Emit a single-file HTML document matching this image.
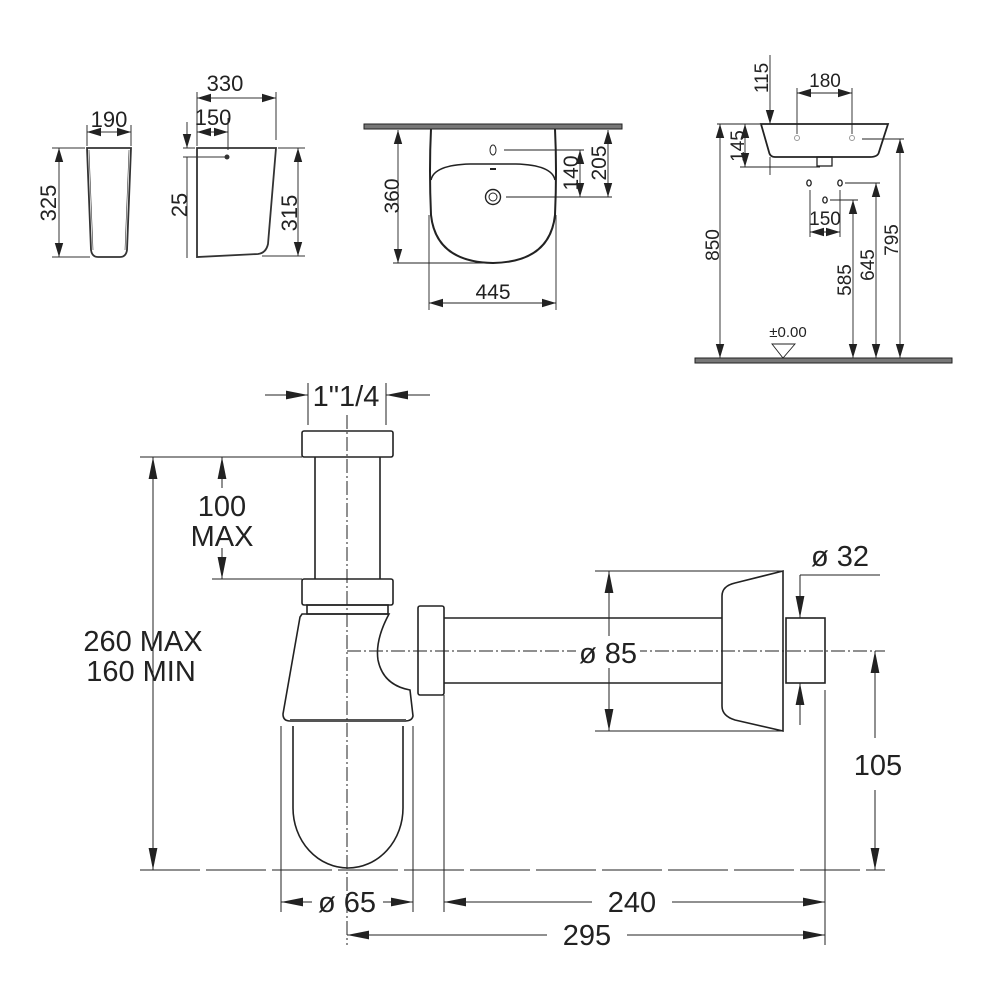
<!DOCTYPE html>
<html><head><meta charset="utf-8"><style>
html,body{margin:0;padding:0;background:#fff;width:1000px;height:1000px;overflow:hidden}
svg{display:block}
text{font-family:"Liberation Sans",sans-serif;fill:#222}
</style></head><body>
<svg width="1000" height="1000" viewBox="0 0 1000 1000" xmlns="http://www.w3.org/2000/svg">
<defs>
<marker id="b" viewBox="0 0 10 10" refX="10" refY="5" markerWidth="14" markerHeight="14" markerUnits="userSpaceOnUse" orient="auto-start-reverse"><path d="M0,2L10,5L0,8z" fill="#222"/></marker>
<marker id="B" viewBox="0 0 10 10" refX="10" refY="5" markerWidth="22" markerHeight="22" markerUnits="userSpaceOnUse" orient="auto-start-reverse"><path d="M0,3L10,5L0,7z" fill="#222"/></marker>
</defs>

<!-- TOP LEFT -->
<g stroke="#333" fill="none" stroke-width="1">
<path d="M87,148 L131,148 L127,250 Q126,257 120,257 L98,257 Q92,257 91,250 Z" stroke-width="1.8"/>
<path d="M89,150 L93,250 M129,150 L125,250" stroke-width="0.6"/>
<line x1="87" y1="132" x2="131" y2="132" marker-start="url(#b)" marker-end="url(#b)"/>
<line x1="87" y1="125" x2="87" y2="146"/><line x1="131" y1="125" x2="131" y2="146"/>
<line x1="59" y1="148" x2="59" y2="257" marker-start="url(#b)" marker-end="url(#b)"/>
<line x1="52" y1="148" x2="85" y2="148"/><line x1="52" y1="257" x2="90" y2="257"/>
<path d="M197,148 L276,148 L268,244 Q266,253 258,254 L197,257 Z" stroke-width="1.8"/>
<circle cx="227" cy="157" r="2" fill="#333"/>
<line x1="197" y1="98" x2="276" y2="98" marker-start="url(#b)" marker-end="url(#b)"/>
<line x1="197" y1="92" x2="197" y2="146"/><line x1="276" y1="92" x2="276" y2="140"/>
<line x1="197" y1="132" x2="228" y2="132" marker-start="url(#b)" marker-end="url(#b)"/>
<line x1="228" y1="118" x2="228" y2="150"/>
<line x1="187" y1="122" x2="187" y2="148" marker-end="url(#b)"/>
<line x1="187" y1="157" x2="187" y2="258"/>
<line x1="183" y1="148" x2="195" y2="148"/><line x1="183" y1="157" x2="225" y2="157"/>
<line x1="298" y1="148" x2="298" y2="256" marker-start="url(#b)" marker-end="url(#b)"/>
<line x1="278" y1="148" x2="305" y2="148"/><line x1="262" y1="256" x2="305" y2="256"/>
</g>
<g font-size="22">
<text x="109" y="127" text-anchor="middle">190</text>
<text x="225" y="91" text-anchor="middle">330</text>
<text x="213" y="125" text-anchor="middle">150</text>
<text transform="translate(56,203) rotate(-90)" text-anchor="middle">325</text>
<text transform="translate(187,205) rotate(-90)" text-anchor="middle">25</text>
<text transform="translate(297,213) rotate(-90)" text-anchor="middle">315</text>
</g>

<!-- TOP MIDDLE -->
<rect x="364" y="124" width="258" height="5" fill="#777" stroke="#222" stroke-width="1"/>
<g stroke="#222" fill="none">
<path d="M431,129 Q429,170 431,215 Q436,262 493,263 Q550,262 555,215 Q557,170 555,129" stroke-width="2"/>
<path d="M431,180 Q434,165 470,164 L516,164 Q552,165 555,180" stroke-width="1.6"/>
<ellipse cx="493" cy="150" rx="3" ry="5" stroke-width="1"/>
<line x1="490" y1="169" x2="496" y2="169" stroke-width="2"/>
<circle cx="493" cy="197" r="7.5" stroke-width="1.4"/><circle cx="493" cy="197" r="4" stroke-width="1"/>
<g stroke-width="0.9">
<line x1="398" y1="130" x2="398" y2="263" marker-start="url(#b)" marker-end="url(#b)"/>
<line x1="393" y1="263" x2="490" y2="263"/>
<line x1="580" y1="150" x2="580" y2="197" marker-start="url(#b)" marker-end="url(#b)"/>
<line x1="608" y1="130" x2="608" y2="197" marker-start="url(#b)" marker-end="url(#b)"/>
<line x1="504" y1="150" x2="584" y2="150"/><line x1="506" y1="197" x2="612" y2="197"/>
<line x1="429" y1="303" x2="556" y2="303" marker-start="url(#b)" marker-end="url(#b)"/>
<line x1="429" y1="215" x2="429" y2="310"/><line x1="556" y1="215" x2="556" y2="310"/>
</g></g>
<g font-size="21">
<text transform="translate(399,196) rotate(-90)" text-anchor="middle">360</text>
<text transform="translate(578,173) rotate(-90)" text-anchor="middle">140</text>
<text transform="translate(606,163) rotate(-90)" text-anchor="middle">205</text>
<text x="493" y="299" text-anchor="middle">445</text>
</g>

<!-- TOP RIGHT -->
<rect x="695" y="358" width="257" height="5" fill="#777" stroke="#222" stroke-width="1"/>
<g stroke="#222" fill="none">
<path d="M761,124 L888,124 L879,152 Q878,157 870,157 L775,157 Q770,157 769,152 Z" stroke-width="1.8"/>
<rect x="817" y="157" width="15" height="9" stroke-width="1.3"/>
<circle cx="797" cy="138" r="2.5" stroke="#999"/><circle cx="852" cy="138" r="2.5" stroke="#999"/>
<ellipse cx="809" cy="183" rx="2.2" ry="3" stroke-width="1.3"/><ellipse cx="840" cy="183" rx="2.2" ry="3" stroke-width="1.3"/><ellipse cx="825" cy="200" rx="2.2" ry="3" stroke-width="1.3"/>
<g stroke-width="0.9">
<line x1="797" y1="93" x2="852" y2="93" marker-start="url(#b)" marker-end="url(#b)"/>
<line x1="797" y1="88" x2="797" y2="134"/><line x1="852" y1="88" x2="852" y2="134"/>
<line x1="770" y1="55" x2="770" y2="124" marker-end="url(#b)"/>
<line x1="745" y1="124" x2="745" y2="167" marker-start="url(#b)" marker-end="url(#b)"/>
<line x1="740" y1="167" x2="820" y2="167"/>
<line x1="770" y1="157" x2="770" y2="175"/>
<line x1="720" y1="124" x2="720" y2="358" marker-start="url(#b)" marker-end="url(#b)"/>
<line x1="717" y1="124" x2="760" y2="124"/>
<line x1="810" y1="190" x2="810" y2="237"/><line x1="840" y1="190" x2="840" y2="237"/>
<line x1="810" y1="232" x2="840" y2="232" marker-start="url(#b)" marker-end="url(#b)"/>
<line x1="853" y1="200" x2="853" y2="358" marker-start="url(#b)" marker-end="url(#b)"/>
<line x1="876" y1="183" x2="876" y2="358" marker-start="url(#b)" marker-end="url(#b)"/>
<line x1="900" y1="139" x2="900" y2="358" marker-start="url(#b)" marker-end="url(#b)"/>
<line x1="830" y1="200" x2="858" y2="200"/><line x1="845" y1="183" x2="880" y2="183"/><line x1="862" y1="139" x2="904" y2="139"/>
<path d="M772,344 L795,344 L783,358 Z"/>
</g></g>
<g font-size="19">
<text x="825" y="87" text-anchor="middle">180</text>
<text transform="translate(768,78) rotate(-90)" text-anchor="middle">115</text>
<text transform="translate(744,146) rotate(-90)" text-anchor="middle">145</text>
<text transform="translate(719,245) rotate(-90)" text-anchor="middle">850</text>
<text x="825" y="225" text-anchor="middle">150</text>
<text transform="translate(851,280) rotate(-90)" text-anchor="middle">585</text>
<text transform="translate(874,265) rotate(-90)" text-anchor="middle">645</text>
<text transform="translate(898,240) rotate(-90)" text-anchor="middle">795</text>
<text x="788" y="337" text-anchor="middle" font-size="15">±0.00</text>
</g>

<!-- MAIN SIPHON -->
<g stroke="#222" fill="none" stroke-width="1.6">
<rect x="302" y="431" width="91" height="26" rx="2"/>
<line x1="315" y1="457" x2="315" y2="579"/><line x1="380" y1="457" x2="380" y2="579"/>
<rect x="302" y="579" width="91" height="26" rx="2"/>
<rect x="307" y="605" width="81" height="9"/>
<path d="M302,614 L389,614 Q375,640 378,660 Q383,685 410,690 L413,716 Q412,721 405,721 L290,721 Q283,721 283,714 L300,617 Z"/>
<rect x="418" y="606" width="26" height="89" rx="2"/>
<line x1="444" y1="618" x2="722" y2="618"/><line x1="444" y1="683" x2="722" y2="683"/>
<path d="M783,571 L735,583 Q722,586 722,596 L722,706 Q722,716 735,720 L783,731 Z"/>
<rect x="786" y="618" width="39" height="65"/>
<path d="M293,726 L293,808 A55,60 0 0 0 403,808 L403,726" />
<rect x="290" y="719" width="116" height="3" fill="#555" stroke="none"/>
</g>
<g stroke="#222" fill="none" stroke-width="1">
<line x1="347" y1="415" x2="347" y2="945" stroke-dasharray="14,3,2,3"/>
<line x1="347" y1="651" x2="885" y2="651" stroke-dasharray="14,3,2,3"/>
<line x1="140" y1="870" x2="885" y2="870" stroke-dasharray="60,6"/>
<line x1="308" y1="383" x2="308" y2="425"/><line x1="386" y1="383" x2="386" y2="425"/>
<line x1="265" y1="395" x2="308" y2="395" marker-end="url(#B)"/>
<line x1="430" y1="395" x2="386" y2="395" marker-end="url(#B)"/>
<line x1="140" y1="457" x2="302" y2="457"/><line x1="212" y1="579" x2="302" y2="579"/>
<line x1="153" y1="457" x2="153" y2="870" marker-start="url(#B)" marker-end="url(#B)"/>
<line x1="222" y1="457" x2="222" y2="488" marker-start="url(#B)"/>
<line x1="222" y1="548" x2="222" y2="579" marker-end="url(#B)"/>
<line x1="595" y1="571" x2="783" y2="571"/><line x1="595" y1="731" x2="783" y2="731"/>
<line x1="609" y1="571" x2="609" y2="636" marker-start="url(#B)"/>
<line x1="609" y1="668" x2="609" y2="731" marker-end="url(#B)"/>
<line x1="800" y1="575" x2="880" y2="575"/>
<line x1="800" y1="575" x2="800" y2="618" marker-end="url(#B)"/>
<line x1="800" y1="725" x2="800" y2="683" marker-end="url(#B)"/>
<line x1="875" y1="651" x2="875" y2="738" marker-start="url(#B)"/>
<line x1="875" y1="790" x2="875" y2="870" marker-end="url(#B)"/>
<line x1="281" y1="726" x2="281" y2="912"/><line x1="413" y1="726" x2="413" y2="912"/>
<line x1="444" y1="695" x2="444" y2="912"/><line x1="825" y1="690" x2="825" y2="945"/>
<line x1="281" y1="902" x2="312" y2="902" marker-start="url(#B)"/>
<line x1="383" y1="902" x2="413" y2="902" marker-end="url(#B)"/>
<line x1="444" y1="902" x2="592" y2="902" marker-start="url(#B)"/>
<line x1="672" y1="902" x2="825" y2="902" marker-end="url(#B)"/>
<line x1="347" y1="935" x2="547" y2="935" marker-start="url(#B)"/>
<line x1="627" y1="935" x2="825" y2="935" marker-end="url(#B)"/>
</g>
<g font-size="29">
<text x="346" y="406" text-anchor="middle">1"1/4</text>
<text x="222" y="516" text-anchor="middle">100</text>
<text x="222" y="546" text-anchor="middle">MAX</text>
<text x="143" y="651" text-anchor="middle">260 MAX</text>
<text x="141" y="681" text-anchor="middle">160 MIN</text>
<rect x="576" y="636" width="64" height="30" fill="#fff"/>
<text x="608" y="663" text-anchor="middle">ø 85</text>
<text x="840" y="566" text-anchor="middle">ø 32</text>
<text x="878" y="775" text-anchor="middle">105</text>
<text x="347" y="912" text-anchor="middle">ø 65</text>
<text x="632" y="912" text-anchor="middle">240</text>
<text x="587" y="945" text-anchor="middle">295</text>
</g>
</svg>
</body></html>
